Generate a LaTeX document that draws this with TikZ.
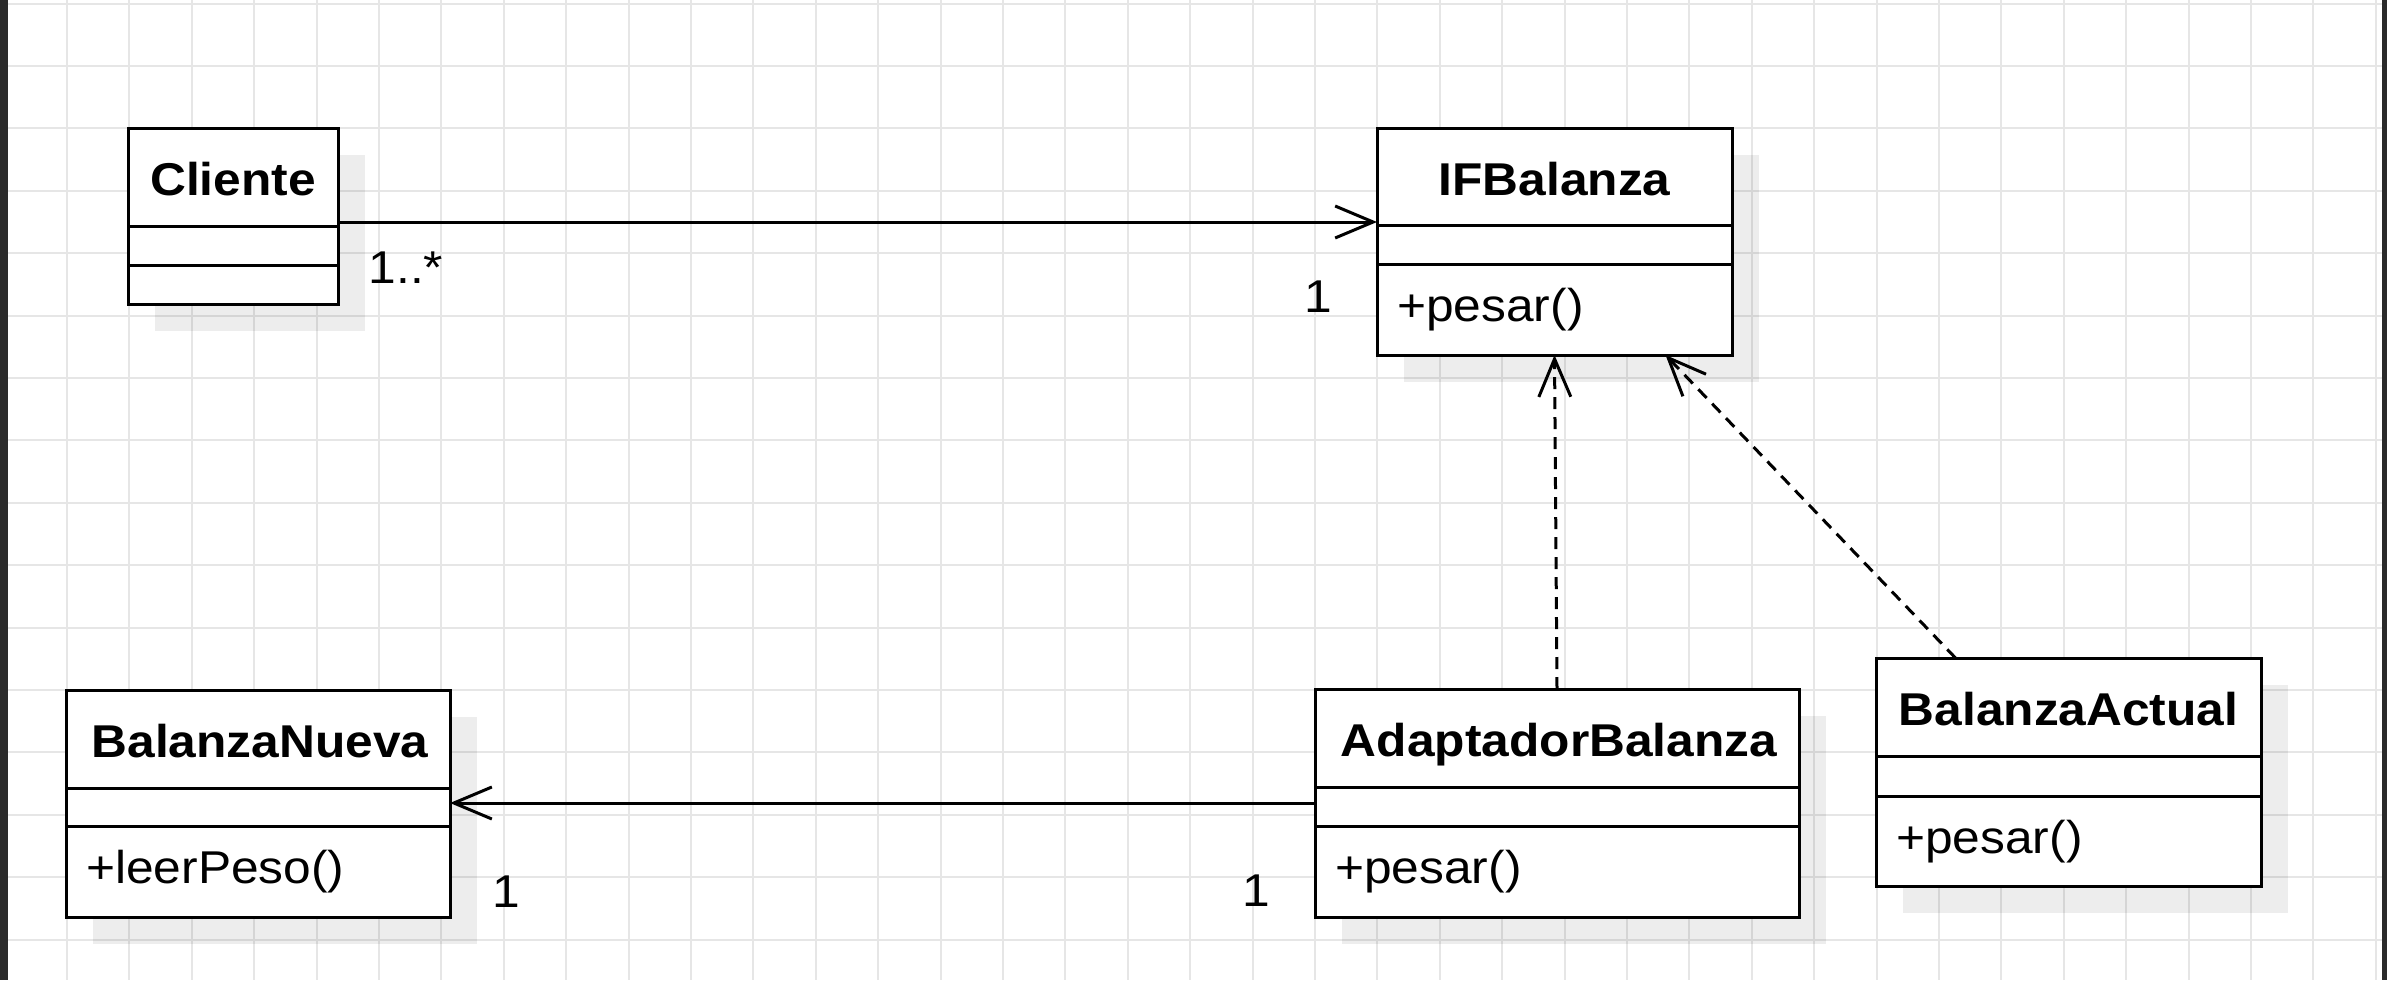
\documentclass[tikz,border=0pt]{standalone}
\usepackage{fontspec}
\setmainfont{Liberation Sans}[FakeStretch=1.08]
\usetikzlibrary{arrows.meta,shadows}
\definecolor{gridc}{HTML}{E6E6E6}
\definecolor{barc}{HTML}{2B2B2B}
\tikzset{
  cls/.style={draw, line width=3pt, fill=white, anchor=north west, inner sep=0pt, outer sep=0pt,
    drop shadow={shadow xshift=27pt, shadow yshift=-27pt, fill=black, opacity=0.07}},
  ttl/.style={font=\fontsize{46}{54}\selectfont\bfseries, anchor=base, inner sep=0pt},
  mth/.style={font=\fontsize{46}{54}\selectfont, anchor=base west, inner sep=0pt},
  lbl/.style={font=\fontsize{46}{54}\selectfont, anchor=base, inner sep=0pt},
  divider/.style={line width=3pt},
  assoc/.style={line width=3pt, -{Straight Barb[length=38pt,width=32pt]}},
  realiz/.style={assoc, dash pattern=on 12pt off 8pt},
  gridline/.style={gridc, line width=2pt},
}
\begin{document}
\begin{tikzpicture}[x=1pt,y=-1pt]
\useasboundingbox (0,0) rectangle (2387,980);
\fill[white] (0,0) rectangle (2387,980);
\foreach \i in {0,...,38} \draw[gridline] ({4.6+62.4*\i},0) -- ++(0,980);
\foreach \j in {0,...,15} \draw[gridline] (0,{3.5+62.4*\j}) -- ++(2387,0);
\fill[barc] (0,0) rectangle (8,980);
\fill[barc] (2382,0) rectangle (2387,980);

% classes
\node[cls, minimum width=210pt, minimum height=176pt] (cliente) at (128,128) {};
\node[cls, minimum width=355pt, minimum height=227pt] (ifb) at (1377,128) {};
\node[cls, minimum width=384pt, minimum height=227pt] (bn) at (66,690) {};
\node[cls, minimum width=484pt, minimum height=228pt] (ab) at (1315,689) {};
\node[cls, minimum width=385pt, minimum height=228pt] (ba) at (1876,658) {};

% dividers
\draw[divider] ([yshift=-98pt]cliente.north west) -- ([yshift=-98pt]cliente.north east);
\draw[divider] ([yshift=-137pt]cliente.north west) -- ([yshift=-137pt]cliente.north east);
\draw[divider] ([yshift=-97pt]ifb.north west) -- ([yshift=-97pt]ifb.north east);
\draw[divider] ([yshift=-136pt]ifb.north west) -- ([yshift=-136pt]ifb.north east);
\draw[divider] ([yshift=-98pt]bn.north west) -- ([yshift=-98pt]bn.north east);
\draw[divider] ([yshift=-136pt]bn.north west) -- ([yshift=-136pt]bn.north east);
\draw[divider] ([yshift=-98pt]ab.north west) -- ([yshift=-98pt]ab.north east);
\draw[divider] ([yshift=-137pt]ab.north west) -- ([yshift=-137pt]ab.north east);
\draw[divider] ([yshift=-98pt]ba.north west) -- ([yshift=-98pt]ba.north east);
\draw[divider] ([yshift=-138pt]ba.north west) -- ([yshift=-138pt]ba.north east);

% titles
\node[ttl] (tcliente) at (233,195) {Cliente};
\node[ttl] (tifb) at (1554.5,195) {IFBalanza};
\node[ttl] (tbn) at (260,757) {BalanzaNueva};
\node[ttl] (tab) at (1559,756) {AdaptadorBalanza};
\node[ttl] (tba) at (2068.5,725) {BalanzaActual};

% methods
\node[mth] (mifb) at (1397,321) {+pesar()};
\node[mth] (mbn) at (86,883) {+leerPeso()};
\node[mth] (mab) at (1335,883) {+pesar()};
\node[mth] (mba) at (1896,853) {+pesar()};

% connectors
\draw[assoc] ([yshift=-6pt]cliente.east) coordinate (s1) -- (s1 -| ifb.west);
\draw[assoc] (ab.west) -- (ab.west -| bn.east);
\draw[realiz] (ab.north) -- (ifb.south);
\draw[realiz] ([xshift=-113pt]ba.north) -- ([xshift=111pt]ifb.south);

% multiplicities
\node[lbl] (m1) at (406,283) {1..*};
\node[lbl] (m2) at (1318,312) {1};
\node[lbl] (m3) at (506,907) {1};
\node[lbl] (m4) at (1256,906) {1};
\end{tikzpicture}
\end{document}
